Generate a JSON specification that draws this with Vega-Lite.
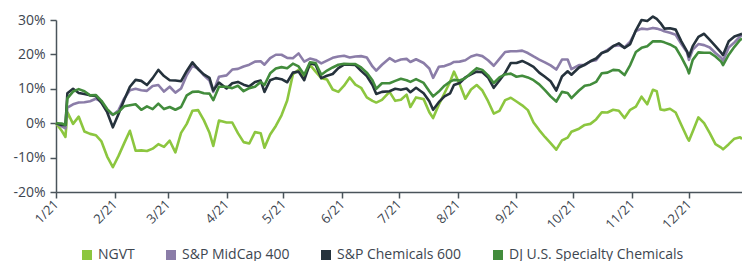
{
  "$schema": "https://vega.github.io/schema/vega-lite/v6.json",
  "width": 686,
  "height": 172,
  "autosize": {"type": "none"},
  "padding": {"left": 56, "top": 20, "right": 0, "bottom": 69},
  "background": "white",
  "config": {
    "view": {"stroke": null},
    "font": "Open Sans",
    "axis": {"grid": false, "domainColor": "#4a545b", "tickColor": "#4a545b", "domainWidth": 1.5, "tickWidth": 1.5, "labelColor": "#3d4650", "labelFont": "Open Sans", "labelFontSize": 14, "title": null}
  },
  "data": {
    "values": [
      {"date": "2021-01-01", "NGVT": 0, "MID": 0, "CHEM": 0, "DJ": 0},
      {"date": "2021-01-04", "NGVT": -2.2, "MID": -0.9, "CHEM": -0.5, "DJ": -0.1},
      {"date": "2021-01-06", "NGVT": -4, "MID": -1.5, "CHEM": -0.5, "DJ": -0.5},
      {"date": "2021-01-07", "NGVT": 3.2, "MID": 4.5, "CHEM": 8.7, "DJ": 7.2},
      {"date": "2021-01-10", "NGVT": -0.2, "MID": 5.5, "CHEM": 10, "DJ": 9.2},
      {"date": "2021-01-13", "NGVT": 1.9, "MID": 6, "CHEM": 8.8, "DJ": 9.9},
      {"date": "2021-01-16", "NGVT": -2.4, "MID": 6.1, "CHEM": 8.5, "DJ": 9.3},
      {"date": "2021-01-19", "NGVT": -3.1, "MID": 6.4, "CHEM": 8.1, "DJ": 8.1},
      {"date": "2021-01-22", "NGVT": -3.5, "MID": 7.1, "CHEM": 7.9, "DJ": 8.2},
      {"date": "2021-01-25", "NGVT": -5.3, "MID": 6.3, "CHEM": 5.9, "DJ": 6.5},
      {"date": "2021-01-28", "NGVT": -9.7, "MID": 3.5, "CHEM": 3.2, "DJ": 4.1},
      {"date": "2021-01-31", "NGVT": -12.8, "MID": 2.4, "CHEM": -1.2, "DJ": 2.5},
      {"date": "2021-02-03", "NGVT": -9.5, "MID": 3.8, "CHEM": 2.7, "DJ": 3.3},
      {"date": "2021-02-06", "NGVT": -5.8, "MID": 7.2, "CHEM": 6.8, "DJ": 4.9},
      {"date": "2021-02-09", "NGVT": -2.2, "MID": 9.6, "CHEM": 10.6, "DJ": 5.2},
      {"date": "2021-02-12", "NGVT": -8, "MID": 10, "CHEM": 12.6, "DJ": 5.5},
      {"date": "2021-02-15", "NGVT": -7.9, "MID": 9.6, "CHEM": 12.3, "DJ": 3.9},
      {"date": "2021-02-18", "NGVT": -8.1, "MID": 9.4, "CHEM": 11.1, "DJ": 4.9},
      {"date": "2021-02-21", "NGVT": -7.4, "MID": 10.8, "CHEM": 13.1, "DJ": 4.1},
      {"date": "2021-02-24", "NGVT": -6.1, "MID": 11.1, "CHEM": 15.5, "DJ": 5.7},
      {"date": "2021-02-27", "NGVT": -6.9, "MID": 9.2, "CHEM": 13.7, "DJ": 4.1},
      {"date": "2021-03-02", "NGVT": -5.1, "MID": 10.6, "CHEM": 12.5, "DJ": 4.7},
      {"date": "2021-03-05", "NGVT": -8.5, "MID": 8.9, "CHEM": 12.4, "DJ": 3.9},
      {"date": "2021-03-08", "NGVT": -2.8, "MID": 10.1, "CHEM": 12.2, "DJ": 4.7},
      {"date": "2021-03-11", "NGVT": -0.2, "MID": 14, "CHEM": 15.2, "DJ": 8.1},
      {"date": "2021-03-14", "NGVT": 3.6, "MID": 16.7, "CHEM": 17.7, "DJ": 9.1},
      {"date": "2021-03-17", "NGVT": 3.8, "MID": 15.9, "CHEM": 15.7, "DJ": 9.2},
      {"date": "2021-03-20", "NGVT": 0.9, "MID": 13.9, "CHEM": 14.2, "DJ": 8.7},
      {"date": "2021-03-23", "NGVT": -2.8, "MID": 12.4, "CHEM": 13.2, "DJ": 8.6},
      {"date": "2021-03-25", "NGVT": -6.6, "MID": 9.1, "CHEM": 9.5, "DJ": 6.7},
      {"date": "2021-03-28", "NGVT": 0.8, "MID": 13.5, "CHEM": 11.8, "DJ": 10.6},
      {"date": "2021-04-01", "NGVT": 0.2, "MID": 13.9, "CHEM": 10.1, "DJ": 10.6},
      {"date": "2021-04-04", "NGVT": 0.2, "MID": 15.6, "CHEM": 11.6, "DJ": 10.2},
      {"date": "2021-04-07", "NGVT": -2.9, "MID": 15.8, "CHEM": 12, "DJ": 10.9},
      {"date": "2021-04-10", "NGVT": -5.5, "MID": 16.5, "CHEM": 11.2, "DJ": 9.3},
      {"date": "2021-04-13", "NGVT": -5.9, "MID": 17, "CHEM": 10.7, "DJ": 10.2},
      {"date": "2021-04-16", "NGVT": -2.6, "MID": 17.9, "CHEM": 12, "DJ": 10.6},
      {"date": "2021-04-19", "NGVT": -2.9, "MID": 18, "CHEM": 12.4, "DJ": 12},
      {"date": "2021-04-21", "NGVT": -7.1, "MID": 17, "CHEM": 9.1, "DJ": 11.1},
      {"date": "2021-04-24", "NGVT": -3.3, "MID": 18.9, "CHEM": 12.5, "DJ": 14.5},
      {"date": "2021-04-27", "NGVT": -0.8, "MID": 19.9, "CHEM": 13.1, "DJ": 15.9},
      {"date": "2021-04-30", "NGVT": 2.3, "MID": 19.9, "CHEM": 12.8, "DJ": 16.3},
      {"date": "2021-05-03", "NGVT": 6.6, "MID": 19, "CHEM": 11.9, "DJ": 16},
      {"date": "2021-05-06", "NGVT": 14.2, "MID": 18.9, "CHEM": 14.7, "DJ": 17.3},
      {"date": "2021-05-09", "NGVT": 15.5, "MID": 20.3, "CHEM": 15, "DJ": 16.5},
      {"date": "2021-05-12", "NGVT": 13.5, "MID": 17.9, "CHEM": 12.5, "DJ": 14.1},
      {"date": "2021-05-15", "NGVT": 17, "MID": 18.8, "CHEM": 17.4, "DJ": 17.7},
      {"date": "2021-05-18", "NGVT": 15, "MID": 18.4, "CHEM": 17, "DJ": 17.5},
      {"date": "2021-05-21", "NGVT": 13.1, "MID": 17.4, "CHEM": 13.1, "DJ": 14.1},
      {"date": "2021-05-24", "NGVT": 12.7, "MID": 18.2, "CHEM": 13.8, "DJ": 15.3},
      {"date": "2021-05-27", "NGVT": 9.8, "MID": 19, "CHEM": 14.3, "DJ": 16.2},
      {"date": "2021-05-30", "NGVT": 9.1, "MID": 19.4, "CHEM": 16, "DJ": 17},
      {"date": "2021-06-02", "NGVT": 10.9, "MID": 19.6, "CHEM": 17, "DJ": 17.3},
      {"date": "2021-06-05", "NGVT": 13.3, "MID": 19.1, "CHEM": 17, "DJ": 17.2},
      {"date": "2021-06-08", "NGVT": 11.2, "MID": 19.4, "CHEM": 16.9, "DJ": 17.2},
      {"date": "2021-06-11", "NGVT": 10.3, "MID": 19.5, "CHEM": 15.2, "DJ": 16.2},
      {"date": "2021-06-14", "NGVT": 7.5, "MID": 19.1, "CHEM": 13.7, "DJ": 14.7},
      {"date": "2021-06-17", "NGVT": 6.5, "MID": 16.5, "CHEM": 11.1, "DJ": 12.5},
      {"date": "2021-06-19", "NGVT": 6, "MID": 15.3, "CHEM": 8.5, "DJ": 10},
      {"date": "2021-06-22", "NGVT": 6.8, "MID": 17, "CHEM": 9.1, "DJ": 11.6},
      {"date": "2021-06-26", "NGVT": 9.1, "MID": 18.9, "CHEM": 9.3, "DJ": 11.6},
      {"date": "2021-06-29", "NGVT": 6.5, "MID": 17.9, "CHEM": 10, "DJ": 12.3},
      {"date": "2021-07-02", "NGVT": 6.8, "MID": 18.5, "CHEM": 9.7, "DJ": 12.9},
      {"date": "2021-07-05", "NGVT": 8.3, "MID": 18.7, "CHEM": 10.1, "DJ": 12.5},
      {"date": "2021-07-07", "NGVT": 4.7, "MID": 17.8, "CHEM": 9, "DJ": 12},
      {"date": "2021-07-10", "NGVT": 7.5, "MID": 18.6, "CHEM": 10.3, "DJ": 12.8},
      {"date": "2021-07-14", "NGVT": 7, "MID": 17.5, "CHEM": 8.7, "DJ": 11.7},
      {"date": "2021-07-17", "NGVT": 3.2, "MID": 15.9, "CHEM": 6.4, "DJ": 9.3},
      {"date": "2021-07-19", "NGVT": 1.5, "MID": 13.2, "CHEM": 3.9, "DJ": 7.8},
      {"date": "2021-07-22", "NGVT": 5.4, "MID": 16.4, "CHEM": 6.1, "DJ": 9.2},
      {"date": "2021-07-25", "NGVT": 8.7, "MID": 16.6, "CHEM": 7.8, "DJ": 10.9},
      {"date": "2021-07-28", "NGVT": 12.1, "MID": 17.2, "CHEM": 8.7, "DJ": 12.1},
      {"date": "2021-07-30", "NGVT": 15, "MID": 17.8, "CHEM": 11.1, "DJ": 12.6},
      {"date": "2021-08-02", "NGVT": 11.4, "MID": 17.9, "CHEM": 11.7, "DJ": 12.4},
      {"date": "2021-08-05", "NGVT": 7.1, "MID": 18.3, "CHEM": 13.3, "DJ": 13.1},
      {"date": "2021-08-08", "NGVT": 9.8, "MID": 19.4, "CHEM": 14.2, "DJ": 14.6},
      {"date": "2021-08-11", "NGVT": 11.1, "MID": 19.9, "CHEM": 15, "DJ": 16},
      {"date": "2021-08-14", "NGVT": 9.5, "MID": 19.5, "CHEM": 14.8, "DJ": 15.5},
      {"date": "2021-08-17", "NGVT": 6.4, "MID": 18.3, "CHEM": 13.3, "DJ": 13.9},
      {"date": "2021-08-20", "NGVT": 2.8, "MID": 16.7, "CHEM": 10.3, "DJ": 11.7},
      {"date": "2021-08-23", "NGVT": 3.6, "MID": 18.7, "CHEM": 12.4, "DJ": 13.3},
      {"date": "2021-08-26", "NGVT": 6.7, "MID": 20.7, "CHEM": 14.6, "DJ": 14.2},
      {"date": "2021-08-29", "NGVT": 7.4, "MID": 20.9, "CHEM": 17.5, "DJ": 14.4},
      {"date": "2021-09-01", "NGVT": 6.3, "MID": 20.9, "CHEM": 17.5, "DJ": 13.5},
      {"date": "2021-09-04", "NGVT": 5.2, "MID": 21.1, "CHEM": 18.1, "DJ": 13.8},
      {"date": "2021-09-07", "NGVT": 3.8, "MID": 20.4, "CHEM": 17.3, "DJ": 13.3},
      {"date": "2021-09-10", "NGVT": 0.2, "MID": 19.4, "CHEM": 16.4, "DJ": 12.5},
      {"date": "2021-09-13", "NGVT": -2, "MID": 18.5, "CHEM": 14.7, "DJ": 11.3},
      {"date": "2021-09-16", "NGVT": -4, "MID": 17.7, "CHEM": 13.5, "DJ": 9.6},
      {"date": "2021-09-19", "NGVT": -5.8, "MID": 16.8, "CHEM": 12.2, "DJ": 7.8},
      {"date": "2021-09-22", "NGVT": -7.7, "MID": 15.6, "CHEM": 9.5, "DJ": 6.3},
      {"date": "2021-09-25", "NGVT": -5, "MID": 18.5, "CHEM": 13.6, "DJ": 9.1},
      {"date": "2021-09-28", "NGVT": -4.2, "MID": 18.5, "CHEM": 15.1, "DJ": 8.8},
      {"date": "2021-09-30", "NGVT": -2.5, "MID": 15.7, "CHEM": 14.1, "DJ": 7.3},
      {"date": "2021-10-04", "NGVT": -1.6, "MID": 16.9, "CHEM": 16.2, "DJ": 9.5},
      {"date": "2021-10-07", "NGVT": -0.5, "MID": 16.9, "CHEM": 17, "DJ": 10.9},
      {"date": "2021-10-10", "NGVT": -0.2, "MID": 18, "CHEM": 18, "DJ": 11.2},
      {"date": "2021-10-13", "NGVT": 1.1, "MID": 18.3, "CHEM": 18.8, "DJ": 12},
      {"date": "2021-10-16", "NGVT": 3.2, "MID": 20.4, "CHEM": 20.4, "DJ": 14.5},
      {"date": "2021-10-19", "NGVT": 3.1, "MID": 21.3, "CHEM": 21, "DJ": 14.7},
      {"date": "2021-10-22", "NGVT": 3.9, "MID": 22.4, "CHEM": 22.4, "DJ": 15.5},
      {"date": "2021-10-25", "NGVT": 3.6, "MID": 22.7, "CHEM": 23.2, "DJ": 15.4},
      {"date": "2021-10-28", "NGVT": 1.5, "MID": 22, "CHEM": 21.9, "DJ": 14},
      {"date": "2021-10-31", "NGVT": 3.9, "MID": 23.7, "CHEM": 23, "DJ": 16.9},
      {"date": "2021-11-03", "NGVT": 4.8, "MID": 26.8, "CHEM": 27, "DJ": 20.7},
      {"date": "2021-11-06", "NGVT": 7.7, "MID": 27.5, "CHEM": 30, "DJ": 21.9},
      {"date": "2021-11-09", "NGVT": 5.5, "MID": 27.3, "CHEM": 29.7, "DJ": 22.4},
      {"date": "2021-11-12", "NGVT": 9.7, "MID": 27.7, "CHEM": 31, "DJ": 23.8},
      {"date": "2021-11-14", "NGVT": 9.3, "MID": 27.5, "CHEM": 30.3, "DJ": 23.8},
      {"date": "2021-11-16", "NGVT": 4, "MID": 27.2, "CHEM": 29.1, "DJ": 23.8},
      {"date": "2021-11-18", "NGVT": 3.8, "MID": 26.7, "CHEM": 27.5, "DJ": 23.5},
      {"date": "2021-11-21", "NGVT": 4.2, "MID": 26.3, "CHEM": 27.6, "DJ": 22.9},
      {"date": "2021-11-24", "NGVT": 3.1, "MID": 25.7, "CHEM": 27.2, "DJ": 22},
      {"date": "2021-11-27", "NGVT": -0.5, "MID": 23, "CHEM": 23.8, "DJ": 19.2},
      {"date": "2021-11-30", "NGVT": -4.1, "MID": 20.6, "CHEM": 20.9, "DJ": 16},
      {"date": "2021-12-01", "NGVT": -5.1, "MID": 18.4, "CHEM": 19.4, "DJ": 14.5},
      {"date": "2021-12-03", "NGVT": -2.4, "MID": 21.4, "CHEM": 22.4, "DJ": 18.4},
      {"date": "2021-12-06", "NGVT": 1.7, "MID": 23, "CHEM": 25.1, "DJ": 20.6},
      {"date": "2021-12-09", "NGVT": 0, "MID": 22.7, "CHEM": 26, "DJ": 20.5},
      {"date": "2021-12-12", "NGVT": -2.9, "MID": 22, "CHEM": 24.2, "DJ": 20.5},
      {"date": "2021-12-15", "NGVT": -6.1, "MID": 20.4, "CHEM": 22.4, "DJ": 19.4},
      {"date": "2021-12-18", "NGVT": -7.1, "MID": 19, "CHEM": 20.5, "DJ": 17.9},
      {"date": "2021-12-19", "NGVT": -7.6, "MID": 18.2, "CHEM": 19.8, "DJ": 16.9},
      {"date": "2021-12-22", "NGVT": -6.1, "MID": 22, "CHEM": 23.8, "DJ": 19.9},
      {"date": "2021-12-25", "NGVT": -4.5, "MID": 23.5, "CHEM": 25.2, "DJ": 22.2},
      {"date": "2021-12-28", "NGVT": -4.1, "MID": 25.2, "CHEM": 25.8, "DJ": 24.2},
      {"date": "2021-12-29", "NGVT": -4.6, "MID": 25.6, "CHEM": 26, "DJ": 24.6}
    ]
  },
  "transform": [
    {"fold": ["NGVT", "MID", "CHEM", "DJ"], "as": ["series", "value"]}
  ],
  "mark": {"type": "line", "strokeWidth": 2.6, "strokeJoin": "round", "interpolate": "linear"},
  "encoding": {
    "x": {
      "field": "date",
      "type": "temporal",
      "scale": {"type": "utc", "domain": ["2021-01-01", "2021-12-29"]},
      "axis": {"labelExpr": "utcFormat(datum.value, '%-m/%y')", "tickCount": {"interval": "month", "step": 1}, "labelAngle": -45, "labelAlign": "right", "labelBaseline": "middle", "tickSize": 6, "labelPadding": 4, "labelFontSize": 13, "labelOverlap": false, "labelBound": false, "labelFlush": false}
    },
    "y": {
      "field": "value",
      "type": "quantitative",
      "scale": {"domain": [-20, 30], "nice": false, "zero": false},
      "axis": {"values": [-20, -10, 0, 10, 20, 30], "labelExpr": "datum.value + '%'", "tickSize": 6, "labelPadding": 5}
    },
    "color": {
      "field": "series",
      "type": "nominal",
      "scale": {"domain": ["NGVT", "MID", "CHEM", "DJ"], "range": ["#8cc63f", "#8b7da8", "#25323c", "#428c3c"]},
      "legend": {
        "orient": "none",
        "direction": "horizontal",
        "legendX": 24,
        "legendY": 228,
        "title": null,
        "padding": 0,
        "symbolType": "square",
        "symbolSize": 16,
        "symbolStrokeWidth": 6,
        "symbolOpacity": 1,
        "labelFont": "Open Sans",
        "labelFontSize": 14,
        "labelColor": "#3d4650",
        "labelLimit": 0,
        "labelOffset": 4,
        "columnPadding": 22,
        "labelExpr": "datum.label == 'MID' ? 'S&P MidCap 400' : datum.label == 'CHEM' ? 'S&P Chemicals 600' : datum.label == 'DJ' ? 'DJ U.S. Specialty Chemicals' : datum.label"
      }
    },
    "order": {"field": "date", "type": "temporal"}
  }
}
